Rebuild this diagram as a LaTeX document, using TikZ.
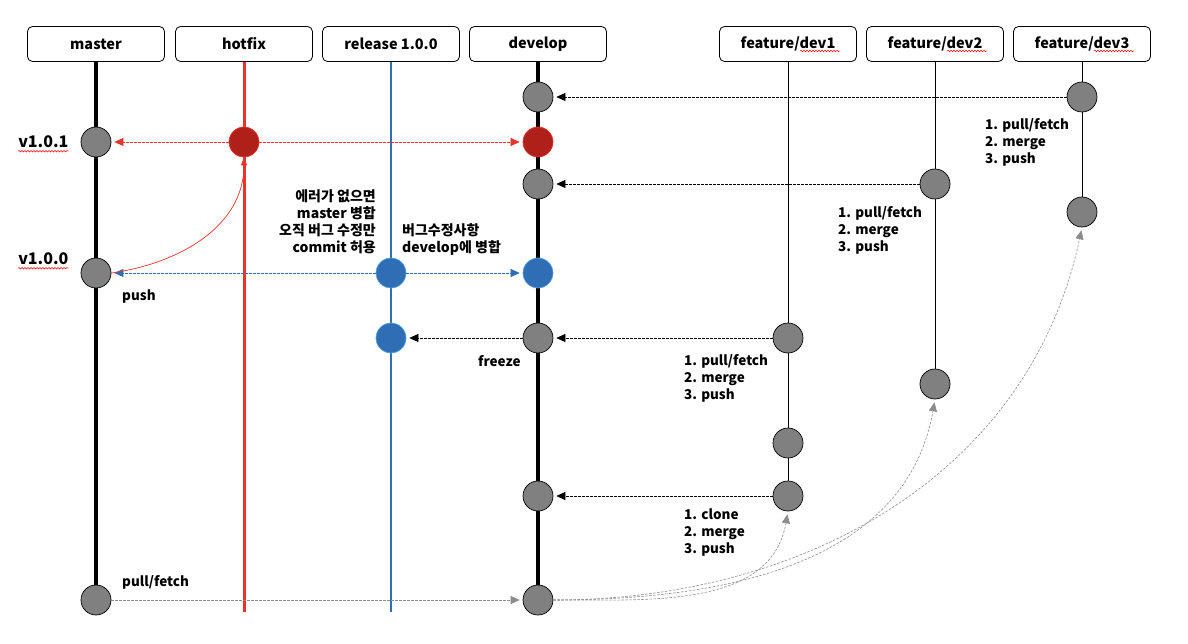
\documentclass[tikz,border=0pt]{standalone}
\usepackage{fontspec}
\setmainfont{Noto Sans CJK KR}
\usetikzlibrary{arrows.meta, positioning, backgrounds, calc, decorations.pathmorphing}
\definecolor{hotred}{HTML}{E8352B}
\definecolor{hotdark}{HTML}{B0201A}
\definecolor{relblue}{HTML}{2F6DB5}
\definecolor{relbord}{HTML}{5AA6E8}
\definecolor{commitgray}{HTML}{808080}
\definecolor{pullgray}{HTML}{8C8C8C}

\begin{document}
\begin{tikzpicture}[x=1pt, y=-1pt,
	font=\fontsize{13.5}{17}\selectfont\bfseries,
	branch/.style = {draw, rounded corners=5pt, minimum width=137pt,
		minimum height=35pt, line width=0.8pt,
		font=\fontsize{14.5}{17}\selectfont\bfseries},
	commit/.style = {circle, draw, fill=commitgray, minimum size=30pt,
		inner sep=0pt, line width=0.7pt},
	hotcommit/.style = {commit, draw=hotred, fill=hotdark},
	relcommit/.style = {commit, draw=relbord, fill=relblue},
	merge/.style = {-{Triangle[length=9pt,width=8pt]},
		dash pattern=on 2.5pt off 1.5pt, line width=0.6pt, shorten >=3pt},
	note/.style = {align=left, inner sep=0pt, anchor=west},
	tag/.style = {inner sep=0pt, font=\fontsize{16}{17}\selectfont\bfseries},
	squig/.style = {draw=red, line width=0.5pt, decorate,
		decoration={snake, amplitude=0.8pt, segment length=3pt}}
	]
	\useasboundingbox (0,0) rectangle (1188,644);
	
	% branch heads
	\node (master) [branch] at (96,44) {master};
	\node (hotfix) [branch] at (244,44) {hotfix};
	\node (release) [branch] at (391,44) {release 1.0.0};
	\node (develop) [branch] at (538,44) {develop};
	\node (fdev1) [branch] at (788,44) {feature/dev1};
	\node (fdev2) [branch] at (935,44) {feature/dev2};
	\node (fdev3) [branch] at (1082,44) {feature/dev3};
	
	% commits
	\node (m1) [commit] at (96,142) {};
	\node (m2) [commit] at (96,273) {};
	\node (m3) [commit] at (96,600) {};
	\node (h1) [hotcommit] at (244,142) {};
	\node (r1) [relcommit] at (391,273) {};
	\node (r2) [relcommit] at (391,338) {};
	\node (d1) [commit] at (538,97) {};
	\node (d2) [hotcommit] at (538,142) {};
	\node (d3) [commit] at (538,184) {};
	\node (d4) [relcommit] at (538,273) {};
	\node (d5) [commit] at (538,338) {};
	\node (d6) [commit] at (538,496) {};
	\node (d7) [commit] at (538,600) {};
	\node (f1a) [commit] at (788,338) {};
	\node (f1b) [commit] at (788,443) {};
	\node (f1c) [commit] at (788,496) {};
	\node (f2a) [commit] at (935,184) {};
	\node (f2b) [commit] at (935,384) {};
	\node (f3a) [commit] at (1082,97) {};
	\node (f3b) [commit] at (1082,212) {};
	\coordinate (hotend) at (244,612);
	\coordinate (relend) at (391,612);
	
	% branch lines
	\begin{scope}[on background layer]
		\draw [line width=4pt] (master.south) -- (m3.center);
		\draw [hotred, line width=3pt] (hotfix.south) -- (hotend);
		\draw [relblue, line width=2.5pt] (release.south) -- (relend);
		\draw [line width=4pt] (develop.south) -- (d7.center);
		\draw [line width=0.8pt] (fdev1.south) -- (f1c.center);
		\draw [line width=0.8pt] (fdev2.south) -- (f2b.center);
		\draw [line width=0.8pt] (fdev3.south) -- (f3b.center);
	\end{scope}
	
	% merges
	\draw [merge] (f3a) -- (d1);
	\draw [merge, hotred] (h1) -- (m1);
	\draw [merge, hotred] (h1) -- (d2);
	\draw [merge] (f2a) -- (d3);
	\draw [merge, relblue] (r1) -- (m2);
	\draw [merge, relblue] (r1) -- (d4);
	\draw [merge] (f1a) -- (d5);
	\draw [merge] (d5) -- (r2);
	\draw [merge] (f1c) -- (d6);
	\draw [merge, pullgray] (m3) -- (d7);
	\draw [hotred, line width=0.7pt, -{Triangle[length=8pt,width=6pt]}]
		(m2.east) to[out=8, in=-90] (h1.south);
	\draw [merge, pullgray] (d7.east) to[out=0, in=-100] (f1c.south);
	\draw [merge, pullgray] (d7.east) to[out=0, in=-100] (f2b.south);
	\draw [merge, pullgray] (d7.east) to[out=0, in=-102] (f3b.south);
	
	% labels
	\node (v101) [tag, left=12pt of m1] {v1.0.1};
	\node (v100) [tag, left=12pt of m2, yshift=14pt] {v1.0.0};
	\node (push) [note] at (122,297) {push};
	\node (pull) [note] at (122,582) {pull/fetch};
	\node (hotnote) [align=right, inner sep=0pt, anchor=east,
		font=\fontsize{14}{17}\selectfont\bfseries] at (376,222)
		{에러가 없으면\\master 병합\\오직 버그 수정만\\commit 허용};
	\node (relnote) [note, font=\fontsize{14}{17}\selectfont\bfseries]
		at (402,240) {버그수정사항\\develop에 병합};
	\node (freeze) [note] at (478,361) {freeze};
	\node (note3) [note] at (985,142) {1. pull/fetch\\2. merge\\3. push};
	\node (note2) [note] at (838,230) {1. pull/fetch\\2. merge\\3. push};
	\node (note1) [note] at (684,378) {1. pull/fetch\\2. merge\\3. push};
	\node (note0) [note] at (684,533) {1. clone\\2. merge\\3. push};
	
	% spell check marks
	\draw [squig] ([yshift=-3pt]v101.south west) -- ([yshift=-3pt]v101.south east);
	\draw [squig] ([yshift=-3pt]v100.south west) -- ([yshift=-3pt]v100.south east);
	\foreach \f in {fdev1, fdev2, fdev3}
		\draw [squig] ($(\f.center)+(12,7)$) -- ++(40,0);
\end{tikzpicture}
\end{document}
